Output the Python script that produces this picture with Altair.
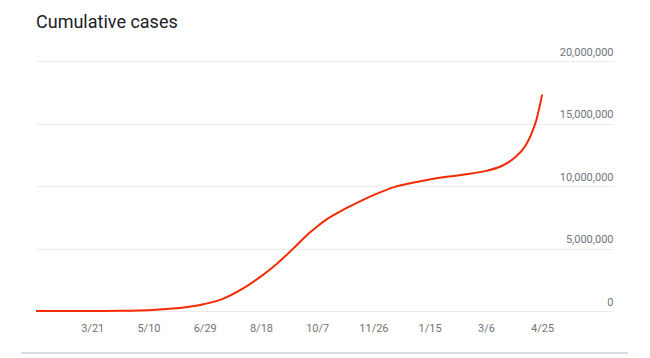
import altair as alt
import pandas as pd

dates = [
    "2020-01-31", "2020-03-01", "2020-03-21", "2020-04-01", "2020-04-15", "2020-05-01",
    "2020-05-10", "2020-05-20", "2020-05-31", "2020-06-15", "2020-06-29", "2020-07-15",
    "2020-08-01", "2020-08-18", "2020-09-01", "2020-09-15", "2020-10-01", "2020-10-07",
    "2020-10-15", "2020-11-01", "2020-11-15", "2020-11-26", "2020-12-15", "2021-01-01",
    "2021-01-15", "2021-02-01", "2021-02-15", "2021-03-06", "2021-03-20", "2021-04-01",
    "2021-04-10", "2021-04-15", "2021-04-20", "2021-04-25",
]
cases = [
    1, 3, 330, 1998, 12380, 37257,
    67161, 112359, 190535, 343091, 566840, 970169,
    1750723, 2767273, 3766108, 4930236, 6312584, 6757131,
    7307097, 8184082, 8814579, 9266705, 9932547, 10286709,
    10527683, 10757610, 10916589, 11210799, 11599130, 12303131,
    13205926, 14074564, 15321089, 17313163,
]

y_ticks = [0, 5000000, 10000000, 15000000, 20000000]
x_tick_dates = [(2020, 3, 21), (2020, 5, 10), (2020, 6, 29), (2020, 8, 18), (2020, 10, 7),
                (2020, 11, 26), (2021, 1, 15), (2021, 3, 6), (2021, 4, 25)]

df = pd.DataFrame({"date": dates, "cases": cases})

font = "Roboto"
label_color = "#70757a"

line = alt.Chart(df).mark_line(color="#f52a00", strokeWidth=2, interpolate="monotone").encode(
    x=alt.X(
        "date:T",
        title=None,
        scale=alt.Scale(type="utc", domain=[alt.DateTime(year=2020, month=1, date=31, utc=True),
                                             alt.DateTime(year=2021, month=6, date=27, utc=True)]),
        axis=alt.Axis(
            values=[alt.DateTime(year=y, month=m, date=d, utc=True) for (y, m, d) in x_tick_dates],
            labelExpr="utcFormat(datum.value, '%-m/%-d')", domain=False, ticks=False, grid=False,
            labelPadding=11, labelFont=font, labelFontSize=11, labelColor=label_color,
        ),
    ),
    y=alt.Y(
        "cases:Q",
        title=None,
        scale=alt.Scale(domain=[0, 20000000], nice=False),
        axis=alt.Axis(
            orient="right", values=y_ticks, format=",d", domain=False, ticks=False, tickSize=0,
            grid=True, gridColor="#ebebeb", gridWidth=1,
            labelAlign="right", labelPadding=0, labelBaseline="alphabetic", labelOffset=-6,
            labelFont=font, labelFontSize=11, labelColor=label_color,
        ),
    ),
)

card = alt.Chart(pd.DataFrame({"a": [0]})).mark_rule(color="#dadce0", strokeWidth=2).encode(
    x=alt.value(-15), x2=alt.value(592), y=alt.value(292)
)

chart = alt.layer(line, card).properties(
    width=577,
    height=250,
    padding={"left": 36, "top": 61, "right": 37, "bottom": 47},
    autosize=alt.AutoSizeParams(type="none"),
    background="white",
    title=alt.Title("Cumulative cases", anchor="start", frame="group", font=font, fontSize=18,
                    fontWeight="normal", color="#202124", offset=14),
).configure_view(stroke=None)

chart.save("out.html", embed_options={"renderer": "svg", "actions": False})
